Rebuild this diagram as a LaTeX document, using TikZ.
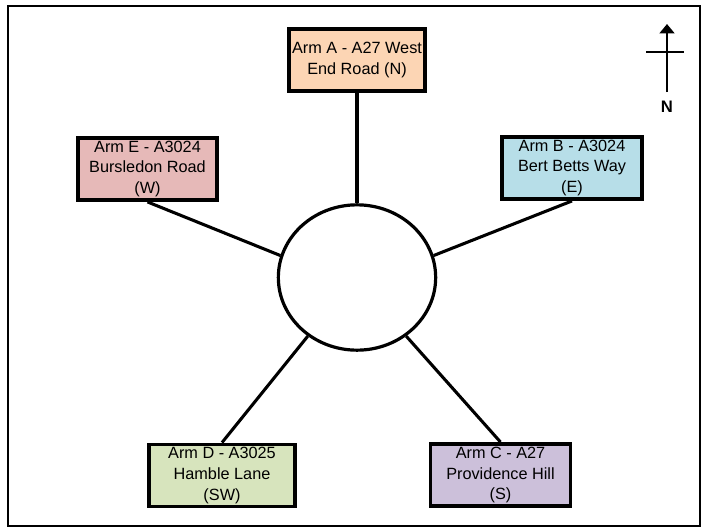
\documentclass[tikz,border=0pt]{standalone}
\usepackage{fontspec}
\setmainfont{Liberation Sans}
\usetikzlibrary{shapes.geometric,arrows.meta}

\definecolor{armA}{HTML}{FCD5B4}
\definecolor{armB}{HTML}{B7DEE8}
\definecolor{armC}{HTML}{CCC0DA}
\definecolor{armD}{HTML}{D7E4BD}
\definecolor{armE}{HTML}{E6B9B8}

\tikzset{
  armbox/.style={draw=black, line width=2.9pt, align=center, inner sep=0pt,
    minimum height=46.5pt,
    font=\fontsize{12.2}{15.5}\selectfont},
  arm/.style={line width=2.3pt},
}

\begin{document}
\begin{tikzpicture}[x=0.75pt, y=-0.75pt]
  \useasboundingbox (0,0) rectangle (702,528);
  % frame
  \draw[line width=1.9pt] (8,6) rectangle (700,526);

  % roundabout
  \node[ellipse, draw, line width=2.4pt, minimum width=118pt, minimum height=109pt, inner sep=0pt]
    (rb) at (357,277.5) {};

  % approach arms
  \node[armbox, fill=armA, minimum width=102pt] (A) at (357,60)
    {Arm A - A27 West\\End Road (N)};
  \node[armbox, fill=armB, minimum width=105pt] (B) at (572,168)
    {Arm B - A3024\\Bert Betts Way\\(E)};
  \node[armbox, fill=armC, minimum width=105pt] (C) at (500.5,475)
    {Arm C - A27\\Providence Hill\\(S)};
  \node[armbox, fill=armD, minimum width=109pt] (D) at (222,475.5)
    {Arm D - A3025\\Hamble Lane\\(SW)};
  \node[armbox, fill=armE, minimum width=104pt] (E) at (147.5,169)
    {Arm E - A3024\\Bursledon Road\\(W)};

  % connectors
  \draw[arm] (A.south) -- (rb.north);
  \draw[arm] (B.south) -- (rb.16);
  \draw[arm] (C.north) -- (rb.310);
  \draw[arm] (D.north) -- (rb.230);
  \draw[arm] (E.south) -- (rb.164);

  % north arrow
  \coordinate (nBase) at (667,92);
  \coordinate (nTip) at (667,24);
  \coordinate (barW) at (646,52);
  \coordinate (barE) at (684,52);
  \draw[line width=2.2pt, -{Triangle[length=7pt, width=11pt]}] (nBase) -- (nTip);
  \draw[line width=2.2pt] (barW) -- (barE);
  \node[font=\bfseries\fontsize{12.5}{14}\selectfont] (nlabel) at (667,107) {N};
\end{tikzpicture}
\end{document}
